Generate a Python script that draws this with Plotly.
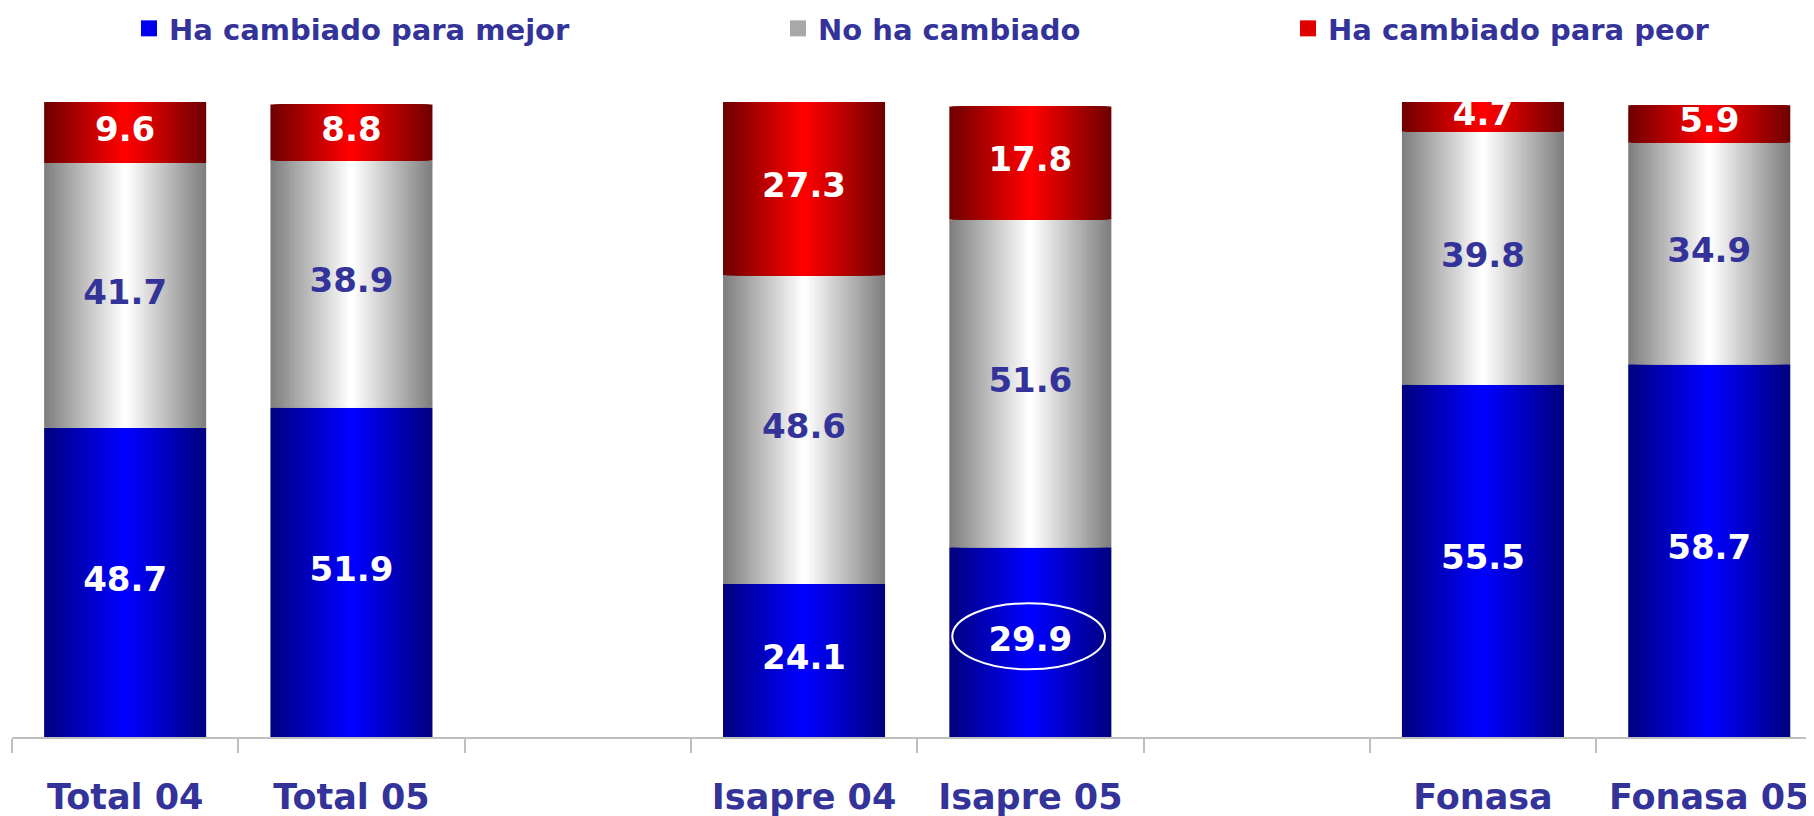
import plotly.graph_objects as go

# ---------------- data ----------------
categories = ["Total 04", "Total 05", " ", "Isapre 04", "Isapre 05", "  ", "Fonasa", "Fonasa 05"]
mejor = [48.7, 51.9, None, 24.1, 29.9, None, 55.5, 58.7]
igual = [41.7, 38.9, None, 48.6, 51.6, None, 39.8, 34.9]
peor = [9.6, 8.8, None, 27.3, 17.8, None, 4.7, 5.9]
series_names = ["Ha cambiado para mejor", "No ha cambiado", "Ha cambiado para peor"]
highlight_category = "Isapre 05"

# ---------------- style ----------------
# page body has an 8px margin; figure is sized/offset to compensate
W, H = 1806, 808
ML, MR, MT, MB = 4, 0, 94, 79
BAR_W = 0.716
CAT_PX = 226.3
N_LAYERS = 30
NAVY = "#333399"
FONT = "DejaVu Sans"
edge_center = [((0, 0, 128), (0, 0, 255)),
               ((127, 127, 127), (255, 255, 255)),
               ((112, 0, 0), (255, 0, 0))]
label_colors = ["white", NAVY, "white"]
legend_colors = ["#0000EE", "#A8A8A8", "#E00000"]
legend_text_px = [161, 810, 1320]
LEGEND_TOP_PX = -5


def lerp(c0, c1, t):
    return "rgb(%d,%d,%d)" % tuple(round(a + (b - a) * t) for a, b in zip(c0, c1))


values = [mejor, igual, peor]
bases = []
for i in range(3):
    b = []
    for j in range(len(categories)):
        if values[i][j] is None:
            b.append(None)
        else:
            b.append(sum(values[k][j] for k in range(i)))
    bases.append(b)

fig = go.Figure()
legend_ids = ["legend", "legend2", "legend3"]
for i in range(3):
    xs = [c for c, v in zip(categories, values[i]) if v is not None]
    ys = [v for v in values[i] if v is not None]
    bs = [b for b in bases[i] if b is not None]
    e, c = edge_center[i]
    for k in range(N_LAYERS):
        t = k / (N_LAYERS - 1)
        fig.add_trace(go.Bar(
            x=xs, y=ys, base=bs,
            width=BAR_W * (1 - k / N_LAYERS),
            marker=dict(color=lerp(e, c, t), line=dict(width=0)),
            name=series_names[i],
            showlegend=False,
            hoverinfo="skip",
        ))
    # legend entry
    fig.add_trace(go.Scatter(
        x=[None], y=[None], mode="markers", name=series_names[i],
        marker=dict(symbol="square", size=16, color=legend_colors[i]),
        legend=legend_ids[i], showlegend=True, hoverinfo="skip",
    ))

# data labels
for i in range(3):
    xs, ys, ts = [], [], []
    for j, cat in enumerate(categories):
        v = values[i][j]
        if v is None:
            continue
        xs.append(cat)
        ys.append(bases[i][j] + v / 2)
        ts.append(f"{v:.1f}")
    fig.add_trace(go.Scatter(
        x=xs, y=ys, text=ts, mode="text",
        textfont=dict(family=FONT, size=34, color=label_colors[i], weight="bold"),
        showlegend=False, hoverinfo="skip", cliponaxis=False,
    ))

# highlight ellipse around Isapre 05 "mejor" value
hj = categories.index(highlight_category)
cy = mejor[hj] / 2 + 0.9
fig.add_shape(type="circle", xref="x", yref="y",
              x0=hj - 0.345, x1=hj + 0.33, y0=cy - 5.2, y1=cy + 5.2,
              line=dict(color="white", width=2), layer="above")

leg_common = dict(orientation="h", yanchor="top", xanchor="left",
                  font=dict(family=FONT, size=29, color=NAVY, weight="bold"),
                  bgcolor="rgba(0,0,0,0)", itemwidth=30, borderwidth=0)
plot_w = W - ML - MR
plot_h = H - MT - MB
legend_y = (H - MB - LEGEND_TOP_PX) / plot_h
layout_legends = {}
for i, lid in enumerate(legend_ids):
    layout_legends[lid] = dict(leg_common, x=(legend_text_px[i] - 40 - ML) / plot_w, y=legend_y)

fig.update_layout(
    width=W, height=H,
    margin=dict(l=ML, r=MR, t=MT, b=MB, pad=0, autoexpand=False),
    barmode="overlay",
    plot_bgcolor="white", paper_bgcolor="white",
    showlegend=True,
    **layout_legends,
    xaxis=dict(
        type="category", categoryorder="array", categoryarray=categories,
        range=[-0.5, -0.5 + plot_w / CAT_PX],
        tickson="boundaries", ticks="outside", ticklen=14, tickwidth=2,
        tickcolor="#BFBFBF", showline=True, linecolor="#BFBFBF", linewidth=2,
        showgrid=False, zeroline=False, automargin=False,
        tickfont=dict(family=FONT, size=35, color=NAVY, weight="bold"),
        ticklabelstandoff=28,
    ),
    yaxis=dict(range=[0, 100], visible=False, showgrid=False, zeroline=False),
)

fig.write_html("out.html")
